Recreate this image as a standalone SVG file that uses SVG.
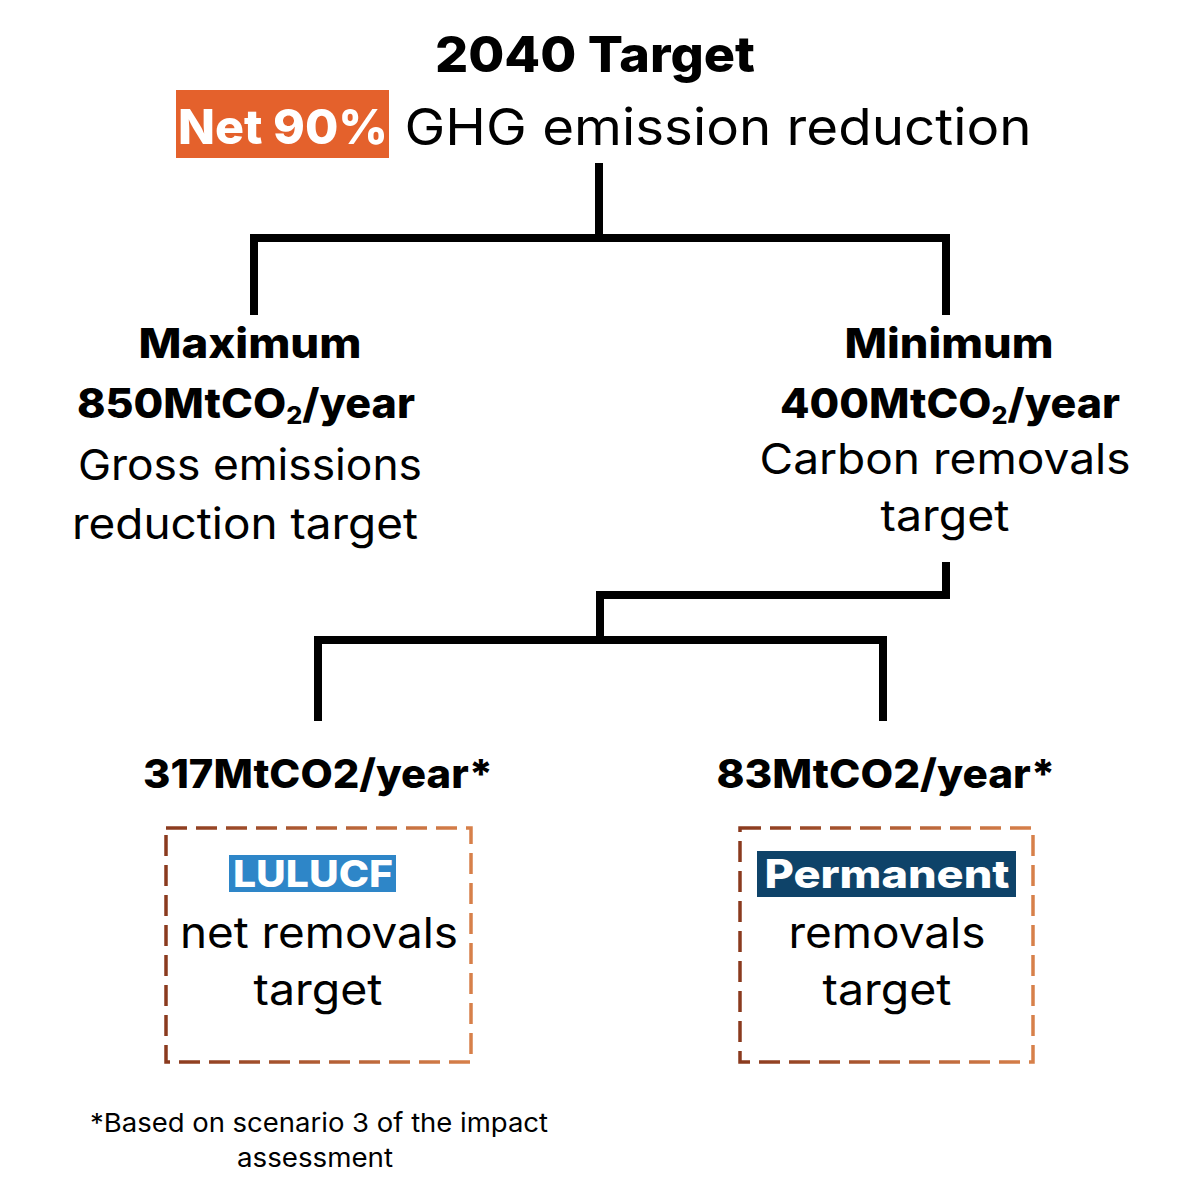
<svg xmlns="http://www.w3.org/2000/svg" width="1200" height="1200" viewBox="0 0 1200 1200">
<defs>
<linearGradient id="brownL" x1="0" y1="0" x2="1" y2="0">
<stop offset="0" stop-color="#8a3a1e"/>
<stop offset="1" stop-color="#d7804a"/>
</linearGradient>
<style>
.t{font-family:Inter,"Open Sans","Liberation Sans",sans-serif;text-anchor:middle;fill:#000}
.b{font-weight:800}
.r{font-weight:400}
.w{fill:#fff}
.conn{stroke:#000;stroke-width:8;fill:none;stroke-linecap:square}
.dash{fill:none;stroke:url(#brownL);stroke-width:3.5;stroke-dasharray:21 9}
</style>
</defs>
<rect width="1200" height="1200" fill="#fff"/>
<g id="connectors">
<path class="conn" d="M599 167V238M254 238H946M254 238V311M946 238V311"/>
<path class="conn" d="M946 566V595H600V640M318 640H883M318 640V717M883 640V717"/>
</g>
<g id="title">
<text class="t b" x="595" y="72" font-size="50" textLength="320" lengthAdjust="spacingAndGlyphs">2040 Target</text>
<rect x="176" y="90" width="213" height="68" fill="#e4612c"/>
<text class="t b w" x="283" y="144" font-size="48" textLength="210" lengthAdjust="spacingAndGlyphs">Net 90%</text>
<text class="t r" x="718" y="145" font-size="51" textLength="627" lengthAdjust="spacingAndGlyphs">GHG emission reduction</text>
</g>
<g id="node-max">
<text class="t b" x="250" y="358" font-size="41" textLength="223" lengthAdjust="spacingAndGlyphs">Maximum</text>
<text class="t b" x="246" y="418" font-size="41" textLength="338" lengthAdjust="spacingAndGlyphs">850MtCO<tspan font-size="24" dy="6">2</tspan><tspan dy="-6">/year</tspan></text>
<text class="t r" x="250" y="480" font-size="43" textLength="344" lengthAdjust="spacingAndGlyphs">Gross emissions</text>
<text class="t r" x="245" y="539" font-size="43" textLength="346" lengthAdjust="spacingAndGlyphs">reduction target</text>
</g>
<g id="node-min">
<text class="t b" x="949" y="358" font-size="41" textLength="209" lengthAdjust="spacingAndGlyphs">Minimum</text>
<text class="t b" x="950" y="418" font-size="41" textLength="340" lengthAdjust="spacingAndGlyphs">400MtCO<tspan font-size="24" dy="6">2</tspan><tspan dy="-6">/year</tspan></text>
<text class="t r" x="945" y="474" font-size="43" textLength="371" lengthAdjust="spacingAndGlyphs">Carbon removals</text>
<text class="t r" x="945" y="531" font-size="43" textLength="129" lengthAdjust="spacingAndGlyphs">target</text>
</g>
<g id="node-lulucf">
<text class="t b" x="318" y="788" font-size="40" textLength="350" lengthAdjust="spacingAndGlyphs">317MtCO2/year*</text>
<rect class="dash" x="166" y="828" width="305" height="234"/>
<rect x="229" y="855" width="167" height="37" fill="#2e86c8"/>
<text class="t b w" x="313" y="887" font-size="37" textLength="160" lengthAdjust="spacingAndGlyphs">LULUCF</text>
<text class="t r" x="319" y="948" font-size="43" textLength="278" lengthAdjust="spacingAndGlyphs">net removals</text>
<text class="t r" x="318" y="1005" font-size="43" textLength="129" lengthAdjust="spacingAndGlyphs">target</text>
</g>
<g id="node-permanent">
<text class="t b" x="886" y="788" font-size="40" textLength="339" lengthAdjust="spacingAndGlyphs">83MtCO2/year*</text>
<rect class="dash" x="740" y="828" width="293" height="234"/>
<rect x="757" y="851" width="259" height="46" fill="#0e4369"/>
<text class="t b w" x="887" y="888" font-size="39" textLength="245" lengthAdjust="spacingAndGlyphs">Permanent</text>
<text class="t r" x="887" y="948" font-size="43" textLength="197" lengthAdjust="spacingAndGlyphs">removals</text>
<text class="t r" x="887" y="1005" font-size="43" textLength="129" lengthAdjust="spacingAndGlyphs">target</text>
</g>
<g id="footnote">
<text class="t r" x="319" y="1132" font-size="26" textLength="458" lengthAdjust="spacingAndGlyphs">*Based on scenario 3 of the impact</text>
<text class="t r" x="315" y="1167" font-size="26" textLength="156" lengthAdjust="spacingAndGlyphs">assessment</text>
</g>
</svg>
